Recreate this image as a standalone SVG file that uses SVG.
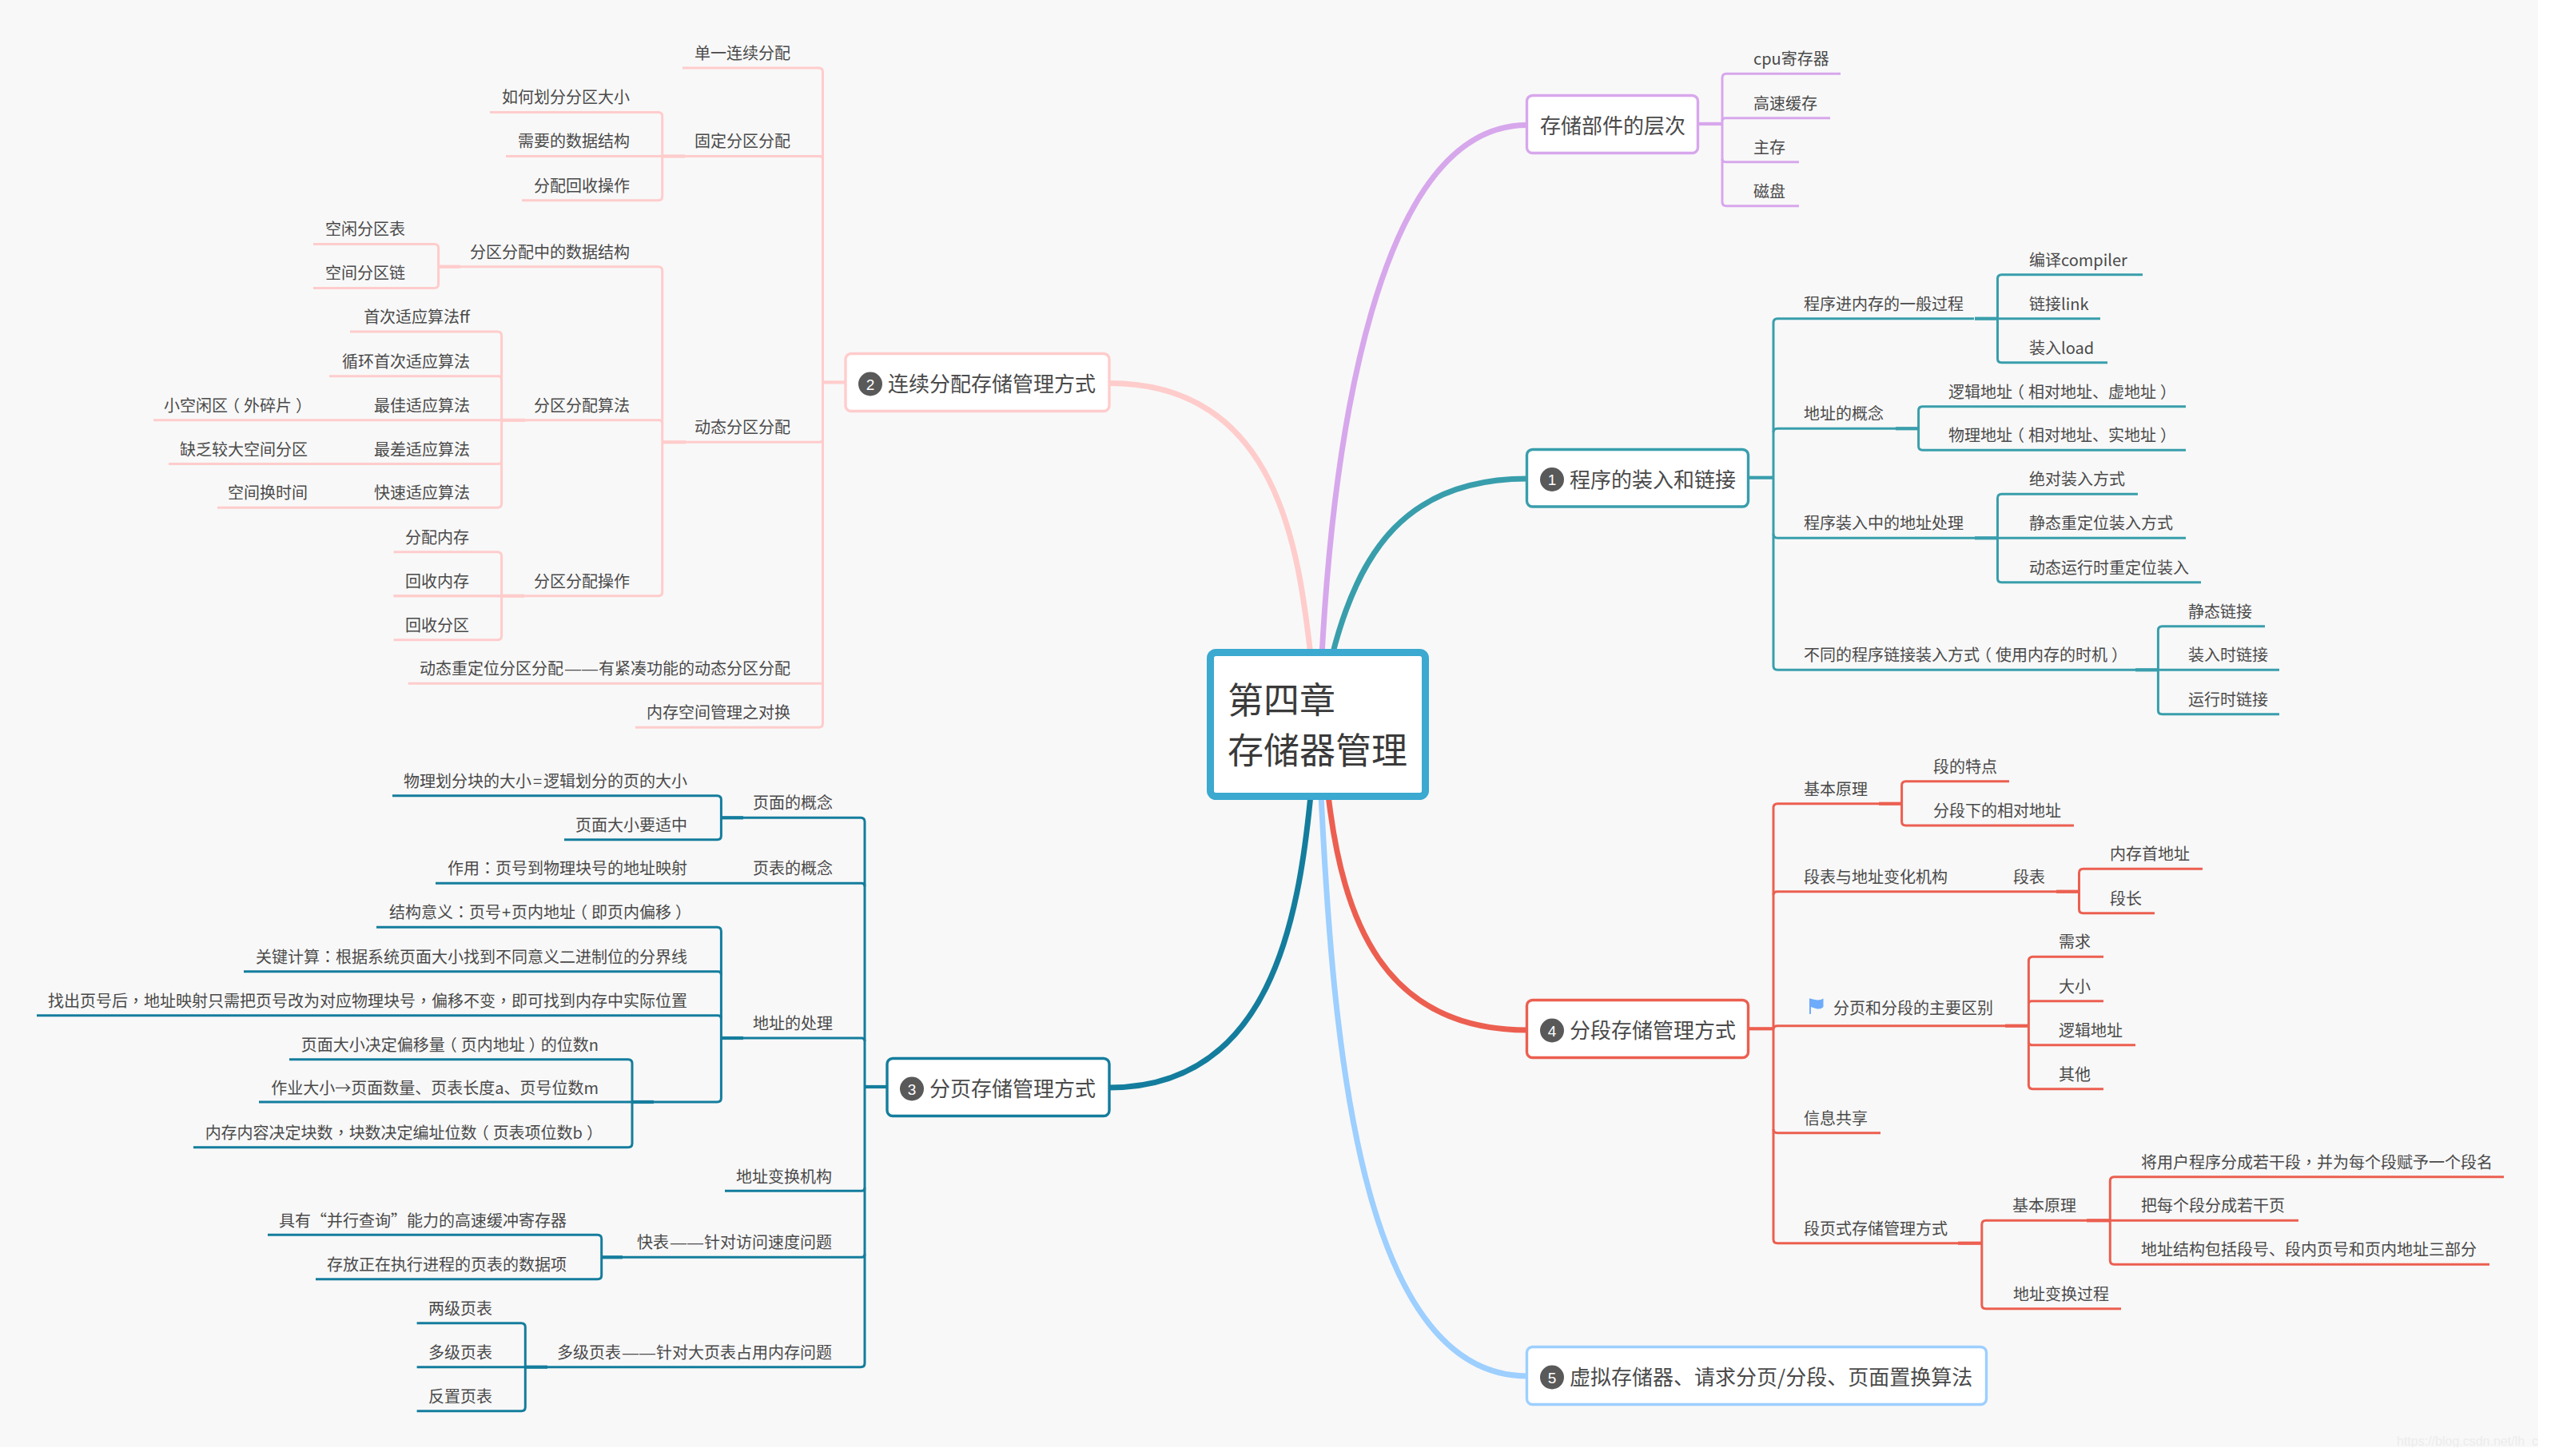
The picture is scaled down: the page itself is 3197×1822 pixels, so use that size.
<svg xmlns="http://www.w3.org/2000/svg" width="3197" height="1822" viewBox="0 0 3197 1822">
<style>
text{font-family:"Noto Sans CJK SC","Noto Sans",sans-serif;fill:#4a4a4a}
.t{font-size:20px}
.e{text-anchor:end}
.m{font-size:26px}
.c{font-size:45px;fill:#3a3a3a}
.b{font-size:19px;fill:#fff;text-anchor:middle;font-family:"Liberation Sans",sans-serif}
.wm{font-size:16px;fill:#ececec;font-family:"Liberation Sans",sans-serif}
.z{font-family:"Noto Sans CJK TC",sans-serif}
.d{font-family:"Liberation Sans",sans-serif;letter-spacing:1px}
.n{fill:#fff;stroke-width:3.4}
.l{fill:none;stroke-width:3;stroke-linecap:butt}
.s{fill:none;stroke-width:4.2}
.k{fill:none;stroke-width:7}
.pk{stroke:#ffcccc}.pu{stroke:#d7a7ec}.te{stroke:#399eac}.re{stroke:#ec5f50}.lb{stroke:#9dcfff}.db{stroke:#147d9d}
</style>
<defs><clipPath id="bgclip"><rect x="0" y="0" width="3176" height="1811"/></clipPath></defs>
<rect width="3197" height="1822" fill="#fff"/>
<rect width="3176" height="1811" fill="#f8f8f8"/>
<g id="connectors">
<path class="k pk" d="M1640 820C1625 690 1600 479.500 1388 479.500"/>
<path class="k pu" d="M1654 820C1668 560 1720 156.500 1911 156.500"/>
<path class="k te" d="M1667 820C1700 690 1760 599 1911 599"/>
<path class="k db" d="M1640 995C1625 1150 1590 1361 1388 1361"/>
<path class="k lb" d="M1653 995C1668 1300 1700 1722 1911 1722"/>
<path class="k re" d="M1662 995C1680 1150 1730 1289 1911 1289"/>
<g id="c-storage">
<path class="s pu" d="M2125 155H2155"/>
<path class="l pu" d="M2303 92.3H2160Q2155 92.3 2155 97.3V252.7Q2155 257.7 2160 257.7H2251"/>
<path class="l pu" d="M2155 151Q2155 147.7 2159 147.7H2290"/>
<path class="l pu" d="M2155 199Q2155 202.7 2159 202.7H2251"/>
</g>
<g id="c-n1">
<path class="s te" d="M2188 597.7H2219"/>
<path class="l te" d="M2470 398.7H2224Q2219 398.7 2219 403.7V833.3Q2219 838.3 2224 838.3H2700"/>
<path class="l te" d="M2219 541Q2219 536.3 2224 536.3H2399"/>
<path class="l te" d="M2219 668Q2219 673.3 2224 673.3H2499"/>
<path class="s te" d="M2471 398.7H2499.5"/><path class="s te" d="M2372 536.3H2400.6"/><path class="s te" d="M2471 673.3H2499.5"/><path class="s te" d="M2672 838.3H2700.4"/>
<path class="l te" d="M2681 343.7H2504.5Q2499.5 343.7 2499.5 348.7V448.7Q2499.5 453.7 2504.5 453.7H2637"/>
<path class="l te" d="M2499.5 398.7H2628"/>
<path class="l te" d="M2735 508.7H2405.6Q2400.6 508.7 2400.6 513.7V558.3Q2400.6 563.3 2405.6 563.3H2735"/>
<path class="l te" d="M2675 618.3H2504.5Q2499.5 618.3 2499.5 623.3V723.7Q2499.5 728.7 2504.5 728.7H2754"/>
<path class="l te" d="M2499.5 673.3H2735"/>
<path class="l te" d="M2834 783.7H2705.4Q2700.4 783.7 2700.4 788.7V888.7Q2700.4 893.7 2705.4 893.7H2852"/>
<path class="l te" d="M2700.4 838.3H2852"/>
</g>
<g id="c-n4">
<path class="s re" d="M2188 1287.3H2219"/>
<path class="l re" d="M2379 1005.7H2224Q2219 1005.7 2219 1010.7V1550.7Q2219 1555.7 2224 1555.7H2479"/>
<path class="l re" d="M2219 1120Q2219 1115.7 2224 1115.7H2601"/>
<path class="l re" d="M2219 1288Q2219 1283.7 2224 1283.7H2538"/>
<path class="l re" d="M2219 1413Q2219 1417.7 2224 1417.7H2353"/>
<path class="s re" d="M2351 1005.7H2379.6"/><path class="s re" d="M2573 1115.7H2601.5"/><path class="s re" d="M2509 1283.7H2538.4"/><path class="s re" d="M2450 1555.7H2479.8"/><path class="s re" d="M2611 1527.3H2640.3"/>
<path class="l re" d="M2514 977.7H2384.6Q2379.6 977.7 2379.6 982.7V1028Q2379.6 1033 2384.6 1033H2595"/>
<path class="l re" d="M2756 1087.3H2606.5Q2601.5 1087.3 2601.5 1092.3V1137.7Q2601.5 1142.7 2606.5 1142.7H2696"/>
<path class="l re" d="M2632 1197.3H2543.4Q2538.4 1197.3 2538.4 1202.3V1357.7Q2538.4 1362.7 2543.4 1362.7H2632"/>
<path class="l re" d="M2538.4 1256Q2538.4 1252.7 2542.4 1252.7H2632"/>
<path class="l re" d="M2538.4 1304Q2538.4 1307.7 2542.4 1307.7H2672"/>
<path class="l re" d="M2640 1527.3H2484.8Q2479.8 1527.3 2479.8 1532.3V1632.7Q2479.8 1637.7 2484.8 1637.7H2654"/>
<path class="l re" d="M3133 1472.7H2645.3Q2640.3 1472.7 2640.3 1477.7V1577.3Q2640.3 1582.3 2645.3 1582.3H3115"/>
<path class="l re" d="M2640.3 1527.3H2876"/>
</g>
<g id="c-n2">
<path class="s pk" d="M1058 478.4H1029"/>
<path class="l pk" d="M854 85H1024.5Q1029.5 85 1029.5 90V905.3Q1029.5 910.3 1024.5 910.3H795"/>
<path class="l pk" d="M829 195.5H1025.5Q1029.5 195.5 1029.5 199.5"/>
<path class="l pk" d="M829 553.3H1025.5Q1029.5 553.3 1029.5 549.3"/>
<path class="l pk" d="M1029.5 855.3H510.7"/>
<path class="s pk" d="M829 195.5H857"/><path class="s pk" d="M829 553.3H858"/><path class="s pk" d="M627.6 525.8H657"/><path class="s pk" d="M627.6 745.7H656"/><path class="s pk" d="M548.6 333.7H576"/>
<path class="l pk" d="M613 140.5H823.7Q828.7 140.5 828.7 145.5V245.7Q828.7 250.7 823.7 250.7H653"/>
<path class="l pk" d="M828.7 195.5H633"/>
<path class="l pk" d="M548.6 333.7H823.7Q828.7 333.7 828.7 338.7V740.7Q828.7 745.7 823.7 745.7H492.5"/>
<path class="l pk" d="M628 525.8H824.7Q828.7 525.8 828.7 529.8"/>
<path class="l pk" d="M392 305.4H543.6Q548.6 305.4 548.6 310.4V355.5Q548.6 360.5 543.6 360.5H392"/>
<path class="l pk" d="M438 415H622.6Q627.6 415 627.6 420V630.3Q627.6 635.3 622.6 635.3H272"/>
<path class="l pk" d="M412 470.7H623.6Q627.6 470.7 627.6 474.7"/>
<path class="l pk" d="M192 525.8H627.6"/>
<path class="l pk" d="M211 580.5H623.6Q627.6 580.5 627.6 576.5"/>
<path class="l pk" d="M492.5 690.7H622.6Q627.6 690.7 627.6 695.7V795.7Q627.6 800.7 622.6 800.7H492.5"/>
<path class="l pk" d="M627.6 745.7H492.5"/>
</g>
<g id="c-n3">
<path class="s db" d="M1110 1360H1082"/>
<path class="l db" d="M902 1023.3H1077Q1082 1023.3 1082 1028.3V1705.7Q1082 1710.7 1077 1710.7H657"/>
<path class="l db" d="M545 1105.3H1078Q1082 1105.3 1082 1109.3"/>
<path class="l db" d="M902 1299H1078Q1082 1299 1082 1303"/>
<path class="l db" d="M907 1490.3H1078Q1082 1490.3 1082 1486.3"/>
<path class="l db" d="M753 1573.3H1078Q1082 1573.3 1082 1569.3"/>
<path class="s db" d="M902.4 1023.3H930"/><path class="s db" d="M902.4 1299H930"/><path class="s db" d="M791 1379H818"/><path class="s db" d="M752.7 1573.3H779"/><path class="s db" d="M657.3 1710.7H685"/>
<path class="l db" d="M491 995.7H897.4Q902.4 995.7 902.4 1000.7V1045.7Q902.4 1050.7 897.4 1050.7H706"/>
<path class="l db" d="M471 1160.3H897.4Q902.4 1160.3 902.4 1165.3V1374Q902.4 1379 897.4 1379H324"/>
<path class="l db" d="M305 1215.7H898.4Q902.4 1215.7 902.4 1219.7"/>
<path class="l db" d="M46 1270.7H898.4Q902.4 1270.7 902.4 1274.7"/>
<path class="l db" d="M362 1325.7H786Q791 1325.7 791 1330.7V1430.7Q791 1435.7 786 1435.7H242"/>
<path class="l db" d="M335 1545.3H747.7Q752.7 1545.3 752.7 1550.3V1595.7Q752.7 1600.7 747.7 1600.7H395"/>
<path class="l db" d="M521.6 1655.7H652.3Q657.3 1655.7 657.3 1660.7V1760.7Q657.3 1765.7 652.3 1765.7H521.6"/>
<path class="l db" d="M657.3 1710.7H521.6"/>
</g>
</g>
<g id="center"><rect x="1514.5" y="816.5" width="269" height="180" rx="7" fill="#fff" stroke="#3ba9d0" stroke-width="9"/><text class="c" x="1536" y="893">第四章</text><text class="c" x="1536" y="956">存储器管理</text></g>
<g id="node-storage"><rect class="n pu" x="1910.5" y="119.5" width="214" height="72" rx="7"/><text class="m" x="1927" y="166.500">存储部件的层次</text></g>
<g id="node-1"><rect class="n te" x="1910.5" y="562.5" width="277" height="71.5" rx="7"/><circle cx="1942" cy="600" r="15" fill="#595959"/><text class="b" x="1942" y="607">1</text><text class="m" x="1964" y="609.500">程序的装入和链接</text></g>
<g id="node-4"><rect class="n re" x="1910.5" y="1251.5" width="277" height="72" rx="7"/><circle cx="1942" cy="1289.500" r="15" fill="#595959"/><text class="b" x="1942" y="1296.500">4</text><text class="m" x="1964" y="1298.500">分段存储管理方式</text></g>
<g id="node-5"><rect class="n lb" x="1910.5" y="1685.5" width="575" height="72" rx="7"/><circle cx="1942" cy="1723.500" r="15" fill="#595959"/><text class="b" x="1942" y="1730.500">5</text><text class="m" x="1964" y="1732.500">虚拟存储器、请求分页/分段、页面置换算法</text></g>
<g id="node-2"><rect class="n pk" x="1058" y="442.5" width="330" height="72" rx="7"/><circle cx="1089" cy="480.500" r="15" fill="#595959"/><text class="b" x="1089" y="487.500">2</text><text class="m" x="1111" y="489.500">连续分配存储管理方式</text></g>
<g id="node-3"><rect class="n db" x="1110" y="1324.5" width="278" height="72" rx="7"/><circle cx="1141" cy="1362.500" r="15" fill="#595959"/><text class="b" x="1141" y="1369.500">3</text><text class="m" x="1163" y="1371.500">分页存储管理方式</text></g>
<g id="leaf-storage" transform="translate(-1,-1)">
<g id="s1"><text class="t" x="2195" y="82">cpu寄存器</text></g>
<g id="s2"><text class="t" x="2195" y="138">高速缓存</text></g>
<g id="s3"><text class="t" x="2195" y="193">主存</text></g>
<g id="s4"><text class="t" x="2195" y="248">磁盘</text></g>
</g>
<g id="leaf-1" transform="translate(-1,-1)">
<g id="a1"><text class="t" x="2258" y="389">程序进内存的一般过程</text></g>
<g id="a2"><text class="t" x="2540" y="334">编译compiler</text></g>
<g id="a3"><text class="t" x="2540" y="389">链接link</text></g>
<g id="a4"><text class="t" x="2540" y="444">装入load</text></g>
<g id="a5"><text class="t" x="2258" y="526">地址的概念</text></g>
<g id="a6"><text class="t" x="2439" y="499">逻辑地址<tspan dx="-5">（</tspan><tspan dx="5">相对地址、虚地址</tspan><tspan dx="5">）</tspan></text></g>
<g id="a7"><text class="t" x="2439" y="553">物理地址<tspan dx="-5">（</tspan><tspan dx="5">相对地址、实地址</tspan><tspan dx="5">）</tspan></text></g>
<g id="a8"><text class="t" x="2258" y="663">程序装入中的地址处理</text></g>
<g id="a9"><text class="t" x="2540" y="608">绝对装入方式</text></g>
<g id="a10"><text class="t" x="2540" y="663">静态重定位装入方式</text></g>
<g id="a11"><text class="t" x="2540" y="719">动态运行时重定位装入</text></g>
<g id="a12"><text class="t" x="2258" y="828">不同的程序链接装入方式<tspan dx="-5">（</tspan><tspan dx="5">使用内存的时机</tspan><tspan dx="5">）</tspan></text></g>
<g id="a13"><text class="t" x="2739" y="774">静态链接</text></g>
<g id="a14"><text class="t" x="2739" y="828">装入时链接</text></g>
<g id="a15"><text class="t" x="2739" y="884">运行时链接</text></g>
</g>
<g id="leaf-4" transform="translate(-1,-1)">
<g id="b1"><text class="t" x="2258" y="996">基本原理</text></g>
<g id="b2"><text class="t" x="2420" y="968">段的特点</text></g>
<g id="b3"><text class="t" x="2420" y="1023">分段下的相对地址</text></g>
<g id="b4"><text class="t" x="2258" y="1106">段表与地址变化机构</text></g>
<g id="b5"><text class="t" x="2520" y="1106">段表</text></g>
<g id="b6"><text class="t" x="2641" y="1077">内存首地址</text></g>
<g id="b7"><text class="t" x="2641" y="1133">段长</text></g>
<g id="b8"><path transform="translate(1,1)" d="M2264 1249.5Q2264 1249 2265 1249.5Q2270 1251 2274 1251.5Q2279 1251.5 2281.5 1249.5V1260Q2279 1263 2274 1262.5Q2269 1261 2266 1260V1268.5Q2265 1269.5 2264 1268.5Z" fill="#6fabfb"/><text class="t" x="2295" y="1269.500">分页和分段的主要区别</text></g>
<g id="b9"><text class="t" x="2577" y="1187">需求</text></g>
<g id="b10"><text class="t" x="2577" y="1243">大小</text></g>
<g id="b11"><text class="t" x="2577" y="1298">逻辑地址</text></g>
<g id="b12"><text class="t" x="2577" y="1353">其他</text></g>
<g id="b13"><text class="t" x="2258" y="1408">信息共享</text></g>
<g id="b14"><text class="t" x="2258" y="1546">段页式存储管理方式</text></g>
<g id="b15"><text class="t" x="2519" y="1517">基本原理</text></g>
<g id="b16"><text class="t" x="2680" y="1463">将用户程序分成若干段<tspan class="z">，</tspan>并为每个段赋予一个段名</text></g>
<g id="b17"><text class="t" x="2680" y="1517">把每个段分成若干页</text></g>
<g id="b18"><text class="t" x="2680" y="1572">地址结构包括段号、段内页号和页内地址三部分</text></g>
<g id="b19"><text class="t" x="2520" y="1628">地址变换过程</text></g>
</g>
<g id="leaf-2" transform="translate(0,-1)">
<g id="p1"><text class="t e" x="989" y="75">单一连续分配</text></g>
<g id="p2"><text class="t e" x="989" y="185">固定分区分配</text></g>
<g id="p3"><text class="t e" x="788" y="130">如何划分分区大小</text></g>
<g id="p4"><text class="t e" x="788" y="185">需要的数据结构</text></g>
<g id="p5"><text class="t e" x="788" y="241">分配回收操作</text></g>
<g id="p6"><text class="t e" x="788" y="324">分区分配中的数据结构</text></g>
<g id="p7"><text class="t e" x="507" y="295">空闲分区表</text></g>
<g id="p8"><text class="t e" x="507" y="350">空间分区链</text></g>
<g id="p9"><text class="t e" x="588" y="405">首次适应算法ff</text></g>
<g id="p10"><text class="t e" x="588" y="461">循环首次适应算法</text></g>
<g id="p11"><text class="t e" x="588" y="516">最佳适应算法</text></g>
<g id="p12"><text class="t e" x="390" y="516">小空闲区<tspan dx="-5">（</tspan><tspan dx="5">外碎片</tspan><tspan dx="5">）</tspan></text></g>
<g id="p13"><text class="t e" x="588" y="571">最差适应算法</text></g>
<g id="p14"><text class="t e" x="385" y="571">缺乏较大空间分区</text></g>
<g id="p15"><text class="t e" x="588" y="625">快速适应算法</text></g>
<g id="p16"><text class="t e" x="385" y="625">空间换时间</text></g>
<g id="p17"><text class="t e" x="788" y="516">分区分配算法</text></g>
<g id="p18"><text class="t e" x="587" y="681">分配内存</text></g>
<g id="p19"><text class="t e" x="587" y="736">回收内存</text></g>
<g id="p20"><text class="t e" x="587" y="791">回收分区</text></g>
<g id="p21"><text class="t e" x="788" y="736">分区分配操作</text></g>
<g id="p22"><text class="t e" x="989" y="543">动态分区分配</text></g>
<g id="p23"><text class="t e" x="989" y="845">动态重定位分区分配<tspan class="d" dx="2">——</tspan>有紧凑功能的动态分区分配</text></g>
<g id="p24"><text class="t e" x="989" y="900">内存空间管理之对换</text></g>
</g>
<g id="leaf-3" transform="translate(0,-1)">
<g id="q1"><text class="t e" x="1042" y="1013">页面的概念</text></g>
<g id="q2"><text class="t e" x="860" y="986">物理划分块的大小<tspan dx="2">=</tspan><tspan dx="2">逻辑划分的页的大小</tspan></text></g>
<g id="q3"><text class="t e" x="860" y="1041">页面大小要适中</text></g>
<g id="q4"><text class="t e" x="1042" y="1095">页表的概念</text></g>
<g id="q5"><text class="t e" x="860" y="1095">作用<tspan class="z">：</tspan>页号到物理块号的地址映射</text></g>
<g id="q6"><text class="t e" x="865" y="1150">结构意义<tspan class="z">：</tspan>页号<tspan dx="1">+</tspan><tspan dx="1">页内地址</tspan><tspan dx="-5">（</tspan><tspan dx="5">即页内偏移</tspan><tspan dx="5">）</tspan></text></g>
<g id="q7"><text class="t e" x="860" y="1206">关键计算<tspan class="z">：</tspan>根据系统页面大小找到不同意义二进制位的分界线</text></g>
<g id="q8"><text class="t e" x="860" y="1261">找出页号后<tspan class="z">，</tspan>地址映射只需把页号改为对应物理块号<tspan class="z">，</tspan>偏移不变<tspan class="z">，</tspan>即可找到内存中实际位置</text></g>
<g id="q9"><text class="t e" x="1042" y="1289">地址的处理</text></g>
<g id="q10"><text class="t e" x="749" y="1316">页面大小决定偏移量<tspan dx="-5">（</tspan><tspan dx="5">页内地址</tspan><tspan dx="5">）</tspan><tspan dx="-5">的位数n</tspan></text></g>
<g id="q11"><text class="t e" x="749" y="1370">作业大小→页面数量、页表长度a、页号位数m</text></g>
<g id="q12"><text class="t e" x="754" y="1426">内存内容决定块数<tspan class="z">，</tspan>块数决定编址位数<tspan dx="-5">（</tspan><tspan dx="5">页表项位数b</tspan><tspan dx="5">）</tspan></text></g>
<g id="q13"><text class="t e" x="1041" y="1481">地址变换机构</text></g>
<g id="q14"><text class="t e" x="1041" y="1563">快表<tspan class="d" dx="2">——</tspan>针对访问速度问题</text></g>
<g id="q15"><text class="t e" x="709" y="1536">具有“并行查询”能力的高速缓冲寄存器</text></g>
<g id="q16"><text class="t e" x="709" y="1591">存放正在执行进程的页表的数据项</text></g>
<g id="q17"><text class="t e" x="1041" y="1701">多级页表<tspan class="d" dx="2">——</tspan>针对大页表占用内存问题</text></g>
<g id="q18"><text class="t e" x="616" y="1646">两级页表</text></g>
<g id="q19"><text class="t e" x="616" y="1701">多级页表</text></g>
<g id="q20"><text class="t e" x="616" y="1756">反置页表</text></g>
</g>
<g clip-path="url(#bgclip)"><text class="wm" x="2999" y="1809">https://blog.csdn.net/lh_ca</text></g>
</svg>
